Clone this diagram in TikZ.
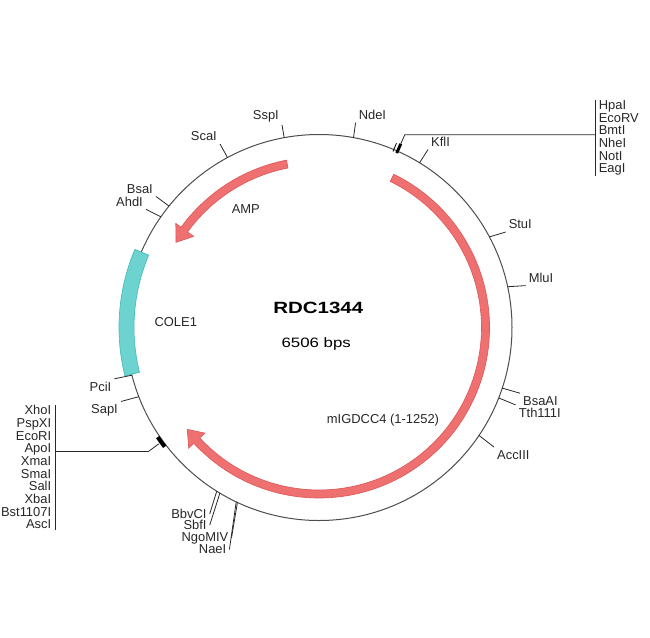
\documentclass[tikz,border=0pt]{standalone}
\usepackage{fontspec}
\setmainfont{Liberation Sans}

\definecolor{featred}{RGB}{239,112,112}
\definecolor{featredline}{RGB}{222,90,90}
\definecolor{featcyan}{RGB}{108,211,209}
\definecolor{featcyanline}{RGB}{72,186,184}
\definecolor{backbone}{RGB}{77,77,77}
\definecolor{leader}{RGB}{40,40,40}

\tikzset{every picture/.style={line width=0.75pt}}
\tikzset{
  site/.style={font=\fontsize{9.7}{11}\selectfont, inner sep=2pt, text=black!85},
  sitelist/.style={font=\fontsize{9.7}{9.5}\selectfont, inner xsep=2.5pt, inner ysep=0pt, text=black!85},
  featlabel/.style={font=\fontsize{9.7}{11}\selectfont, inner sep=0.75pt, text=black!85},
  leaderline/.style={draw=leader, line width=0.6pt},
  redarrow/.style={fill=featred, draw=featredline, line width=0.5pt},
  cyanbar/.style={fill=featcyan, draw=featcyanline, line width=0.5pt},
}

\begin{document}
\begin{tikzpicture}[x=0.75pt,y=0.75pt,yscale=-1,xscale=1]
\useasboundingbox (0,0) rectangle (650,637);

%Shape: Circle (backbone)
\draw [color=backbone] (319,327.5) circle [radius=193];

\begin{scope}[shift={(319,327.5)}]
%Shape: Arc (COLE1)
\draw [cyanbar] (166:185) arc [start angle=166, end angle=203, radius=185] -- (203:200) arc [start angle=203, end angle=166, radius=200] -- cycle;
%Shape: Arc Arrow (AMP)
\draw [redarrow] (259:170.5) arc [start angle=259, end angle=216, radius=170.5] -- (216:177) -- (210.8:166.5) -- (216:155) -- (216:162.5) arc [start angle=216, end angle=259, radius=162.5] -- cycle;
%Shape: Arc Arrow (mIGDCC4)
\draw [redarrow] (-64:170.5) arc [start angle=-64, end angle=137.2, radius=170.5] -- (137.2:177.5) -- (142.3:166.5) -- (137.2:155.5) -- (137.2:162.5) arc [start angle=137.2, end angle=-64, radius=162.5] -- cycle;

%Sites on the circle
\coordinate (sspI) at (259.6:193);
\coordinate (scaI) at (241.7:193);
\coordinate (bsaI) at (219:193);
\coordinate (ahdI) at (215:193);
\coordinate (ndeI) at (280.3:193);
\coordinate (kflI) at (301.4:193);
\coordinate (stuI) at (332:193);
\coordinate (mluI) at (347.8:193);
\coordinate (bsaAI) at (18.3:193);
\coordinate (tthI) at (21.4:193);
\coordinate (accIII) at (34:193);
\coordinate (pciI) at (165.7:193);
\coordinate (sapI) at (159:193);
\coordinate (bbvCI) at (122:193);
\coordinate (sbfI) at (120.9:193);
\coordinate (ngoMIV) at (115:193);
\coordinate (naeI) at (115.4:193);
%MCS marks
\coordinate (hk-mark) at (294:201);
\coordinate (hk-bend) at (294:211);
\coordinate (lk-mark) at (144:198);
\coordinate (lk-bend) at (144:211);
\draw [line width=2.2pt] (294:191) -- (294:201);
\draw [line width=0.6pt] (292.8:191) -- (292.8:200);
\draw [line width=3pt] (142.3:195) arc [start angle=142.3, end angle=145.8, radius=195];
\end{scope}

% Text Node
\node [site, anchor=east] (sspI-l) at (282,115.9) {SspI};
\node [site, anchor=east] (scaI-l) at (220,136.2) {ScaI};
\node [site, anchor=east] (bsaI-l) at (156,188.8) {BsaI};
\node [site, anchor=east] (ahdI-l) at (146,201.4) {AhdI};
\node [site, anchor=west] (ndeI-l) at (355.6,114.7) {NdeI};
\node [site, anchor=west] (kflI-l) at (428,141.7) {KflI};
\node [site, anchor=west] (stuI-l) at (505.6,224.3) {StuI};
\node [site, anchor=west] (mluI-l) at (525.6,277.7) {MluI};
\node [site, anchor=west] (bsaAI-l) at (520,400.9) {BsaAI};
\node [site, anchor=west] (tthI-l) at (515.6,412.8) {Tth111I};
\node [site, anchor=west] (accIII-l) at (494,454.7) {AccIII};
\node [site, anchor=east] (pciI-l) at (114.4,386.7) {PciI};
\node [site, anchor=east] (sapI-l) at (121,410.5) {SapI};
\node [site, anchor=east] (bbvCI-l) at (209.7,514) {BbvCI};
\node [site, anchor=east] (sbfI-l) at (209.7,525.2) {SbfI};
\node [site, anchor=east] (ngoMIV-l) at (231.5,538) {NgoMIV};
\node [site, anchor=east] (naeI-l) at (229.4,549.5) {NaeI};

%Straight Lines (leaders)
\draw [leaderline] (sspI) -- (sspI-l.south east);
\draw [leaderline] (scaI) -- (scaI-l.south east);
\draw [leaderline] (bsaI) -- (bsaI-l.south east);
\draw [leaderline] (ahdI) -- (ahdI-l.south east);
\draw [leaderline] (ndeI) -- (ndeI-l.south west);
\draw [leaderline] (kflI) -- (kflI-l.south west);
\draw [leaderline] (stuI) -- (stuI-l.south west);
\draw [leaderline] (mluI) -- (mluI-l.south west);
\draw [leaderline] (bsaAI) -- (bsaAI-l.north west);
\draw [leaderline] (tthI) -- (tthI-l.north west);
\draw [leaderline] (accIII) -- (accIII-l.north west);
\draw [leaderline] (pciI) -- (pciI-l.north east);
\draw [leaderline] (sapI) -- (sapI-l.north east);
\draw [leaderline] (bbvCI) -- (bbvCI-l.east);
\draw [leaderline] (sbfI) -- (sbfI-l.east);
\draw [leaderline] (ngoMIV) -- (ngoMIV-l.east);
\draw [leaderline] (naeI) -- (naeI-l.east);

% Text Node (site lists)
\node [sitelist, anchor=north west, align=left] (hk-list) at (595,100) {HpaI\\EcoRV\\BmtI\\NheI\\NotI\\EagI};
\node [sitelist, anchor=north east, align=right] (lk-list) at (55,405) {XhoI\\PspXI\\EcoRI\\ApoI\\XmaI\\SmaI\\SalI\\XbaI\\Bst1107I\\AscI};
\draw [leaderline] (hk-list.north west) -- (hk-list.south west);
\draw [leaderline] (lk-list.north east) -- (lk-list.south east);
\draw [leaderline] (hk-mark) -- (hk-bend) -- (hk-bend -| hk-list.west);
\draw [leaderline] (lk-mark) -- (lk-bend) -- (lk-bend -| lk-list.east);

% Text Node (features)
\node [featlabel] (amp-l) at (245.8,209.5) {AMP};
\node [featlabel] (cole-l) at (175.8,322) {COLE1};
\node [featlabel] (migdcc-l) at (383,420.5) {mIGDCC4 (1-1252)};

% Text Node (name and size)
\node [font=\fontsize{12.2}{14}\selectfont\bfseries, inner sep=0.75pt] (plasmid-name) at (318.3,308.3) {\scalebox{1.26}[1]{RDC1344}};
\node [font=\fontsize{10.2}{12}\selectfont, inner sep=0.75pt] (plasmid-size) at (316.2,344.2) {\scalebox{1.24}[1]{6506 bps}};

\end{tikzpicture}
\end{document}
